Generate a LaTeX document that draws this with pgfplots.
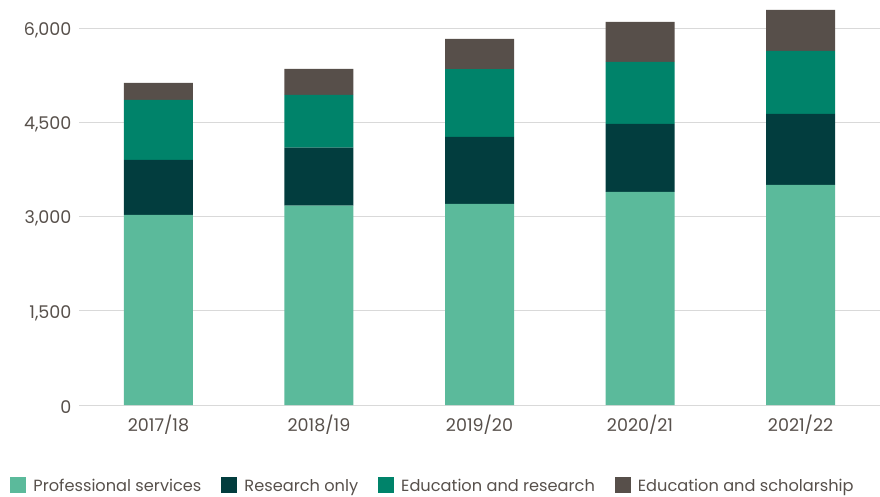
\documentclass[border=0pt]{standalone}
\usepackage{pgfplots}
\pgfplotsset{compat=1.18}
\usepackage{fontspec}
\setmainfont{Poppins}
\definecolor{cProf}{HTML}{5BBA9B}
\definecolor{cRes}{HTML}{023D3E}
\definecolor{cEdr}{HTML}{00836A}
\definecolor{cEds}{HTML}{574F4A}
\definecolor{cTxt}{HTML}{57504B}
\definecolor{cGrid}{HTML}{D9D9D9}
\begin{document}
\begin{tikzpicture}
\path[use as bounding box] (0pt,0pt) rectangle (880pt,496pt);
\begin{axis}[
  at={(79pt,91pt)}, anchor=south west,
  scale only axis, width=801pt, height=405pt,
  ybar stacked, bar width=69pt,
  xmin=-0.495, xmax=4.495, ymin=0, ymax=6451,
  xtick={0,1,2,3,4},
  xticklabels={2017/18,2018/19,2019/20,2020/21,2021/22},
  ytick={0,1500,3000,4500,6000},
  scaled y ticks=false,
  /pgf/number format/.cd, 1000 sep={,}, assume math mode=true, /pgfplots/.cd,
  major tick length=0pt,
  axis line style={draw=none},
  ymajorgrids, grid style={cGrid, line width=1pt},
  tick label style={font=\fontsize{17.5}{20}\selectfont, text=cTxt},
  xticklabel style={yshift=-6pt},
  yticklabel style={xshift=-4pt, yshift=-2pt},
  legend columns=4,
  legend style={at={(0.442,-0.2)}, anchor=center, draw=none, fill=none,
    font=\fontsize{16.2}{19}\selectfont, text=cTxt,
    /tikz/every even column/.append style={column sep=18pt}},
  legend cell align=left,
  legend image code/.code={\fill[#1,draw=none] (0pt,-7pt) rectangle (16pt,9pt); \path (21pt,0pt);},
]
\addplot[fill=cProf, draw=none] coordinates {(0,3027) (1,3175) (2,3202) (3,3393) (4,3505)};
\addplot[fill=cRes, draw=none] coordinates {(0,876) (1,924) (2,1067) (3,1083) (4,1131)};
\addplot[fill=cEdr, draw=none] coordinates {(0,956) (1,839) (2,1079) (3,988) (4,1003)};
\addplot[fill=cEds, draw=none] coordinates {(0,270) (1,414) (2,482) (3,637) (4,653)};
\legend{Professional services, Research only, Education and research, Education and scholarship}
\end{axis}
\end{tikzpicture}
\end{document}
